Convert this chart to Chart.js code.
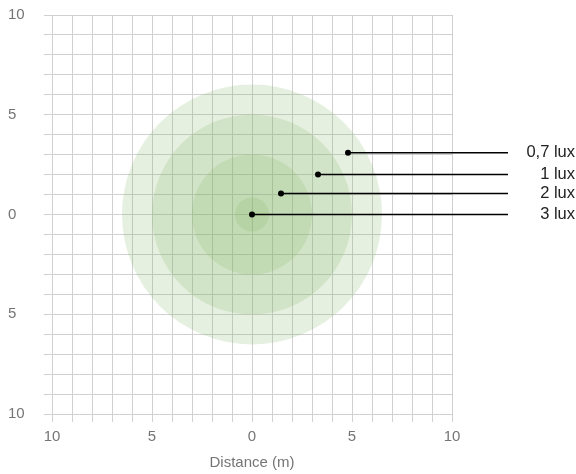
<!DOCTYPE html>
<html><head><meta charset="utf-8">
<script src="https://cdn.jsdelivr.net/npm/chart.js@4"></script>
<style>html,body{margin:0;padding:0;background:#fff}#wrap{width:576px;height:474px}</style>
</head><body><div id="wrap"><canvas id="c"></canvas></div>
<script>
// Illuminance zones (lux) and their radii in metres
const levels = ['0,7 lux', '1 lux', '2 lux', '3 lux'];
const zoneRadii = [6.5, 5.0, 3.0, 0.85];
// Leader line start points (m)
const markerX = [4.8, 3.3, 1.45, 0];
const markerY = [3.1, 2.0, 1.05, 0];
const leaderEndX = 12.8;
// Axis tick labels
const axisTickValues = [-10, -5, 0, 5, 10];
const axisTickLabels = ['10', '5', '0', '5', '10'];

const FONT = "'Liberation Sans', Arial, sans-serif";
const TICK_COLOR = '#757575';
const GRID_COLOR = '#d0d0d0';

function tickLabel(v) {
  const i = axisTickValues.indexOf(v);
  return i >= 0 ? axisTickLabels[i] : '';
}

function radiusPx(ctx) {
  const sx = ctx.chart.scales.x;
  if (!sx || !ctx.raw) return 0;
  const d = Math.abs(sx.getPixelForValue(ctx.raw.rm) - sx.getPixelForValue(0));
  return isFinite(d) ? d : 0;
}

const datasets = [{
  type: 'scatter',
  order: 1,
  data: zoneRadii.map(r => ({x: 0, y: 0, rm: r})),
  showLine: false,
  pointBackgroundColor: 'rgba(130,180,100,0.2)',
  pointBorderWidth: 0,
  pointBorderColor: 'rgba(0,0,0,0)',
  pointRadius: radiusPx,
  pointHoverRadius: radiusPx
}];
levels.forEach((lv, i) => {
  datasets.push({
    type: 'scatter',
    order: 0,
    label: lv,
    data: [{x: markerX[i], y: markerY[i]}, {x: leaderEndX, y: markerY[i]}],
    showLine: true,
    borderColor: '#000',
    backgroundColor: '#000',
    borderWidth: 1.5,
    pointRadius: [3, 0],
    pointBorderWidth: 0,
    clip: false
  });
});

const labelPlugin = {
  id: 'levelLabels',
  afterDatasetsDraw(chart) {
    const c = chart.ctx, sy = chart.scales.y;
    c.save();
    c.font = "16.5px " + FONT;
    c.fillStyle = '#222';
    c.textAlign = 'right';
    c.textBaseline = 'middle';
    levels.forEach((lv, i) => {
      c.fillText(lv, chart.width - 1, sy.getPixelForValue(markerY[i]));
    });
    c.restore();
  }
};

function axis(extra) {
  return Object.assign({
    type: 'linear',
    min: -10, max: 10,
    grid: {color: GRID_COLOR, tickLength: 8, lineWidth: 1},
    border: {color: GRID_COLOR},
    ticks: {
      stepSize: 1, autoSkip: false, maxRotation: 0,
      color: TICK_COLOR, font: {family: FONT, size: 15},
      callback: v => tickLabel(v)
    }
  }, extra);
}

const xAxis = axis({
  position: 'bottom',
  title: {display: true, text: 'Distance (m)', color: TICK_COLOR, font: {family: FONT, size: 15}, padding: {top: 4, bottom: 2}},
  afterFit: s => { s.height = 60; }
});
xAxis.ticks.padding = 6;
const yAxis = axis({ position: 'left', afterFit: s => { s.width = 44; } });
yAxis.ticks.crossAlign = 'far';

new Chart(document.getElementById('c'), {
  data: {datasets},
  options: {
    responsive: true,
    maintainAspectRatio: false,
    animation: false,
    events: [],
    layout: {padding: {left: 8, right: 124, top: 15, bottom: 0}},
    plugins: {legend: {display: false}, tooltip: {enabled: false}},
    scales: {x: xAxis, y: yAxis}
  },
  plugins: [labelPlugin]
});
</script>
</body></html>
